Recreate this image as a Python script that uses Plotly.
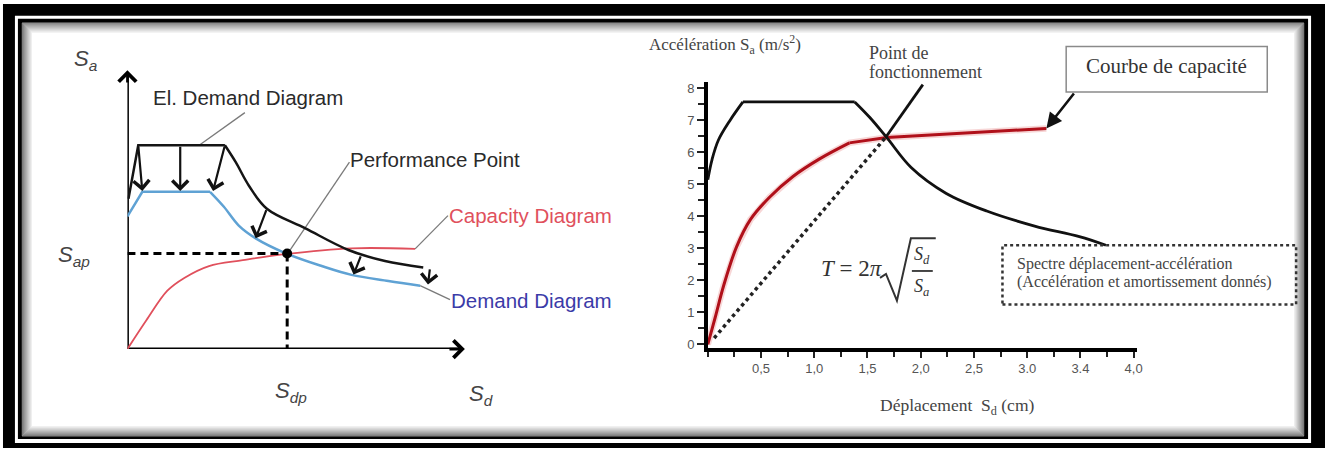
import plotly.graph_objects as go

W, H = 1331, 452

# ---------------- Left panel (conceptual, arbitrary units 0..10) ----------------
el_x = [0.03, 0.32, 2.88, 3.20, 3.59, 4.12, 5.26, 6.53, 7.61, 8.74]
el_y = [5.43, 7.36, 7.36, 6.75, 5.90, 5.07, 4.36, 3.58, 3.18, 2.95]

dem_x = [0.0, 0.44, 2.44, 2.85, 3.29, 3.79, 4.68, 5.74, 6.62, 7.71, 8.65]
dem_y = [4.79, 5.68, 5.68, 5.14, 4.46, 4.00, 3.46, 3.00, 2.68, 2.46, 2.29]

cap_x = [0.0, 0.56, 1.18, 1.68, 2.41, 3.41, 4.65, 6.62, 8.50]
cap_y = [0.0, 1.04, 2.11, 2.57, 3.00, 3.21, 3.43, 3.64, 3.62]

arr_tail_x = [0.32, 1.56, 2.88, 4.12, 6.91, 8.94]
arr_tail_y = [7.36, 7.36, 7.36, 5.07, 3.40, 2.93]
arr_head_x = [0.44, 1.56, 2.53, 3.79, 6.68, 8.88]
arr_head_y = [5.71, 5.71, 5.71, 4.00, 2.69, 2.33]

perf_x, perf_y = 4.72, 3.45
axis_tip_x, axis_tip_y = 9.97, 10.07

lead_el = ([2.12, 3.47], [7.36, 8.54])
lead_pp = ([4.74, 6.56], [3.46, 6.75])
lead_cap = ([8.50, 9.47], [3.62, 4.82])
lead_dem = ([8.65, 9.53], [2.29, 1.79])

# ---------------- Right panel (Sd in cm, Sa in m/s2) ----------------
spec_x = [0.0, 0.04, 0.10, 0.21, 0.33, 1.38, 1.52, 1.68, 1.91, 2.24, 2.62, 3.07, 3.49, 3.74]
spec_y = [5.15, 5.78, 6.39, 7.01, 7.58, 7.58, 7.10, 6.47, 5.53, 4.72, 4.17, 3.70, 3.37, 3.10]

cap2_x = [0.0, 0.07, 0.15, 0.27, 0.40, 0.58, 0.80, 1.05, 1.33, 1.68, 3.18]
cap2_y = [0.0, 0.85, 1.85, 3.05, 3.90, 4.60, 5.25, 5.80, 6.30, 6.47, 6.75]

pf_x, pf_y = 1.67, 6.47
dot_start = (0.06, 0.20)
pf_leader = ([1.67, 2.02], [6.47, 8.12])
courbe_tail = (3.45, 7.89)

x_tickvals = [0.5, 1.0, 1.5, 2.0, 2.5, 3.0, 3.5, 4.0]
x_ticktext = ["0,5", "1,0", "1,5", "2,0", "2,5", "3.0", "3.4", "4,0"]
y_tickvals = [0, 1, 2, 3, 4, 5, 6, 7, 8]
y_ticktext = ["0", "1", "2", "3", "4", "5", "6", "7", "8"]


def PX(x):
    return x / W


def PY(y):
    return 1 - y / H


fig = go.Figure()


def line_trace(x, y, color, width, ax="x", ay="y", shape="linear", dash=None):
    ln = dict(color=color, width=width, shape=shape)
    if shape == "spline":
        ln["smoothing"] = 1.0
    if dash:
        ln["dash"] = dash
    fig.add_trace(go.Scatter(x=x, y=y, mode="lines", line=ln, xaxis=ax, yaxis=ay, hoverinfo="skip"))


# ---- left traces
line_trace([0, 0], [0, axis_tip_y - 0.1], "black", 3)
line_trace([0, axis_tip_x - 0.1], [0, 0], "black", 3)
for lx, ly in [lead_el, lead_pp, lead_cap, lead_dem]:
    line_trace(lx, ly, "#7a7a7a", 1.3)
line_trace(cap_x, cap_y, "#e0505c", 1.8, shape="spline")
line_trace(dem_x[:3], dem_y[:3], "#5fa2d4", 2.5)
line_trace(dem_x[2:], dem_y[2:], "#5fa2d4", 2.5, shape="spline")
line_trace(el_x[:3], el_y[:3], "#151515", 2.5)
line_trace(el_x[2:], el_y[2:], "#151515", 2.5, shape="spline")
line_trace([0, perf_x], [perf_y, perf_y], "black", 3, dash="8px,5px")
line_trace([perf_x, perf_x], [perf_y, 0], "black", 3, dash="8px,5px")
fig.add_trace(go.Scatter(x=[perf_x], y=[perf_y], mode="markers", marker=dict(color="black", size=10),
                         xaxis="x", yaxis="y", hoverinfo="skip"))

# ---- right traces
line_trace(cap2_x, cap2_y, "rgba(225,90,90,0.25)", 6.5, "x2", "y2")
line_trace(cap2_x[:9], cap2_y[:9], "#b0101a", 3, "x2", "y2", shape="spline")
line_trace(cap2_x[8:], cap2_y[8:], "#b0101a", 3, "x2", "y2")
line_trace([dot_start[0], pf_x], [dot_start[1], pf_y], "#222", 3.5, "x2", "y2", dash="dot")
line_trace(spec_x[:5], spec_y[:5], "#111", 2.8, "x2", "y2", shape="spline")
line_trace(spec_x[4:6], spec_y[4:6], "#111", 2.8, "x2", "y2")
line_trace(spec_x[5:], spec_y[5:], "#111", 2.8, "x2", "y2", shape="spline")
line_trace(pf_leader[0], pf_leader[1], "#111", 2.8, "x2", "y2")

annotations = []
# axis arrowheads (left)
annotations.append(dict(x=0, y=axis_tip_y, ax=0, ay=axis_tip_y - 0.5, xref="x", yref="y", axref="x", ayref="y",
                        text="", showarrow=True, arrowhead=4, arrowsize=1.3, arrowwidth=2.6, arrowcolor="black"))
annotations.append(dict(x=axis_tip_x, y=0, ax=axis_tip_x - 0.5, ay=0, xref="x", yref="y", axref="x", ayref="y",
                        text="", showarrow=True, arrowhead=4, arrowsize=1.3, arrowwidth=2.6, arrowcolor="black"))
for tx, ty, hx, hy in zip(arr_tail_x, arr_tail_y, arr_head_x, arr_head_y):
    annotations.append(dict(x=hx, y=hy, ax=tx, ay=ty, xref="x", yref="y", axref="x", ayref="y",
                            text="", showarrow=True, arrowhead=4, arrowsize=1.4, arrowwidth=2.2, arrowcolor="#111"))
# Courbe de capacité arrow (right)
annotations.append(dict(x=cap2_x[-1], y=cap2_y[-1], ax=courbe_tail[0], ay=courbe_tail[1], xref="x2", yref="y2",
                        axref="x2", ayref="y2", text="", showarrow=True, arrowhead=2, arrowsize=1.2,
                        arrowwidth=2.6, arrowcolor="#111"))


def label(x, y, text, size, color="#222", family="Liberation Sans", xanchor="left", yanchor="middle"):
    annotations.append(dict(x=PX(x), y=PY(y), xref="paper", yref="paper", text=text, showarrow=False,
                            xanchor=xanchor, yanchor=yanchor, font=dict(size=size, color=color, family=family)))


# left labels
label(152, 98, "El. Demand Diagram", 20.5, "#2a2a2a")
label(350, 160, "Performance Point", 20.5, "#2a2a2a")
label(449, 217, "Capacity Diagram", 20.5, "#e0505c")
label(451, 303, "Demand Diagram", 20.5, "#3b3ba8")
label(86, 60, "<i>S<sub>a</sub></i>", 22, "#444", xanchor="center")
label(74, 258, "<i>S<sub>ap</sub></i>", 22, "#444", xanchor="center")
label(292, 395, "<i>S<sub>dp</sub></i>", 22, "#444", xanchor="center")
label(483, 398, "<i>S<sub>d</sub></i>", 22, "#444", xanchor="center")

# right labels
SERIF = "Liberation Serif"
label(650, 44, "Accélération S<sub>a</sub> (m/s<sup>2</sup>)", 17, "#444", SERIF)
label(871, 53, "Point de", 18, "#444", SERIF)
label(871, 72, "fonctionnement", 18, "#444", SERIF)
label(1172, 66, "Courbe de capacité", 21, "#333", SERIF, xanchor="center")
label(1020, 266, "Spectre déplacement-accélération", 16, "#444", SERIF)
label(1020, 284, "(Accélération et amortissement donnés)", 16, "#444", SERIF)
label(962, 410, "Déplacement  S<sub>d</sub> (cm)", 17.5, "#444", SERIF, xanchor="center")
label(889, 270, "<i>T</i> = 2<i>π</i>", 23, "#333", SERIF, xanchor="right")
label(926, 257, "<i>S<sub>d</sub></i>", 18, "#333", SERIF, xanchor="center")
label(926, 290, "<i>S<sub>a</sub></i>", 18, "#333", SERIF, xanchor="center")

shapes = []


def rect(x0, y0, x1, y1, fill=None, line=None, lw=0, dash=None, layer="below"):
    d = dict(type="rect", xref="paper", yref="paper", x0=PX(x0), x1=PX(x1), y0=PY(y1), y1=PY(y0), layer=layer)
    d["fillcolor"] = fill if fill else "rgba(0,0,0,0)"
    d["line"] = dict(width=lw, color=line or "rgba(0,0,0,0)")
    if dash:
        d["line"]["dash"] = dash
    shapes.append(d)


# frame
rect(3, 3, 1331, 452, fill="black")
rect(15, 15, 1317, 447, fill="white")
rect(18, 18, 1314, 443, fill="black")
rect(22, 22, 1310, 440, fill="white")
for k in range(10):
    g = int(110 + k * 14)
    rect(22.5 + k, 22.5 + k, 1309.5 - k, 439.5 - k, line=f"rgb({g},{g},{g})", lw=1)

# boxes on right
rect(1071, 46, 1273, 92, line="#8a8a8a", lw=1.5, layer="above")
rect(1007, 247, 1302, 307, line="#333", lw=2.5, dash="dot", layer="above")

# radical sign and fraction bar
path = (f"M {PX(884)},{PY(280)} L {PX(890)},{PY(276)} L {PX(901)},{PY(303)} "
        f"L {PX(915)},{PY(240)} L {PX(940)},{PY(240)}")
shapes.append(dict(type="path", xref="paper", yref="paper", path=path, line=dict(color="#333", width=2), layer="above"))
shapes.append(dict(type="line", xref="paper", yref="paper", x0=PX(916), x1=PX(937), y0=PY(273), y1=PY(273),
                   line=dict(color="#333", width=1.8), layer="above"))

tickfont = dict(family="Liberation Sans", size=13, color="#555")

fig.update_layout(
    width=W, height=H, autosize=False,
    margin=dict(l=0, r=0, t=0, b=0),
    paper_bgcolor="white", plot_bgcolor="rgba(0,0,0,0)",
    showlegend=False,
    xaxis=dict(domain=[PX(128), PX(468)], range=[0, 10], visible=False, anchor="y", fixedrange=True),
    yaxis=dict(domain=[PY(352), PY(72)], range=[0, 10], visible=False, anchor="x", fixedrange=True),
    xaxis2=dict(domain=[PX(711), PX(1142)], range=[0, 4.03], anchor="y2", showline=True, linecolor="black",
                linewidth=4, ticks="outside", ticklen=6, tickwidth=2, tickcolor="#222",
                tickvals=x_tickvals, ticktext=x_ticktext, tickfont=tickfont, showgrid=False, zeroline=False,
                minor=dict(ticks="outside", tick0=0, dtick=0.25, ticklen=5, tickwidth=2, tickcolor="#222"),
                fixedrange=True),
    yaxis2=dict(domain=[PY(350.5), PY(82)], range=[-0.1, 8.2], anchor="x2", showline=True, linecolor="black",
                linewidth=3.5, ticks="outside", ticklen=7, tickwidth=2, tickcolor="#222",
                tickvals=y_tickvals, ticktext=y_ticktext, tickfont=tickfont, showgrid=False, zeroline=False,
                minor=dict(ticks="outside", tick0=0, dtick=0.5, ticklen=6, tickwidth=2, tickcolor="#222"),
                fixedrange=True),
    annotations=annotations,
    shapes=shapes,
)

fig.write_html("out.html", config={"displayModeBar": False},
               post_script="document.body.style.margin='0px';document.body.style.overflow='hidden';")
